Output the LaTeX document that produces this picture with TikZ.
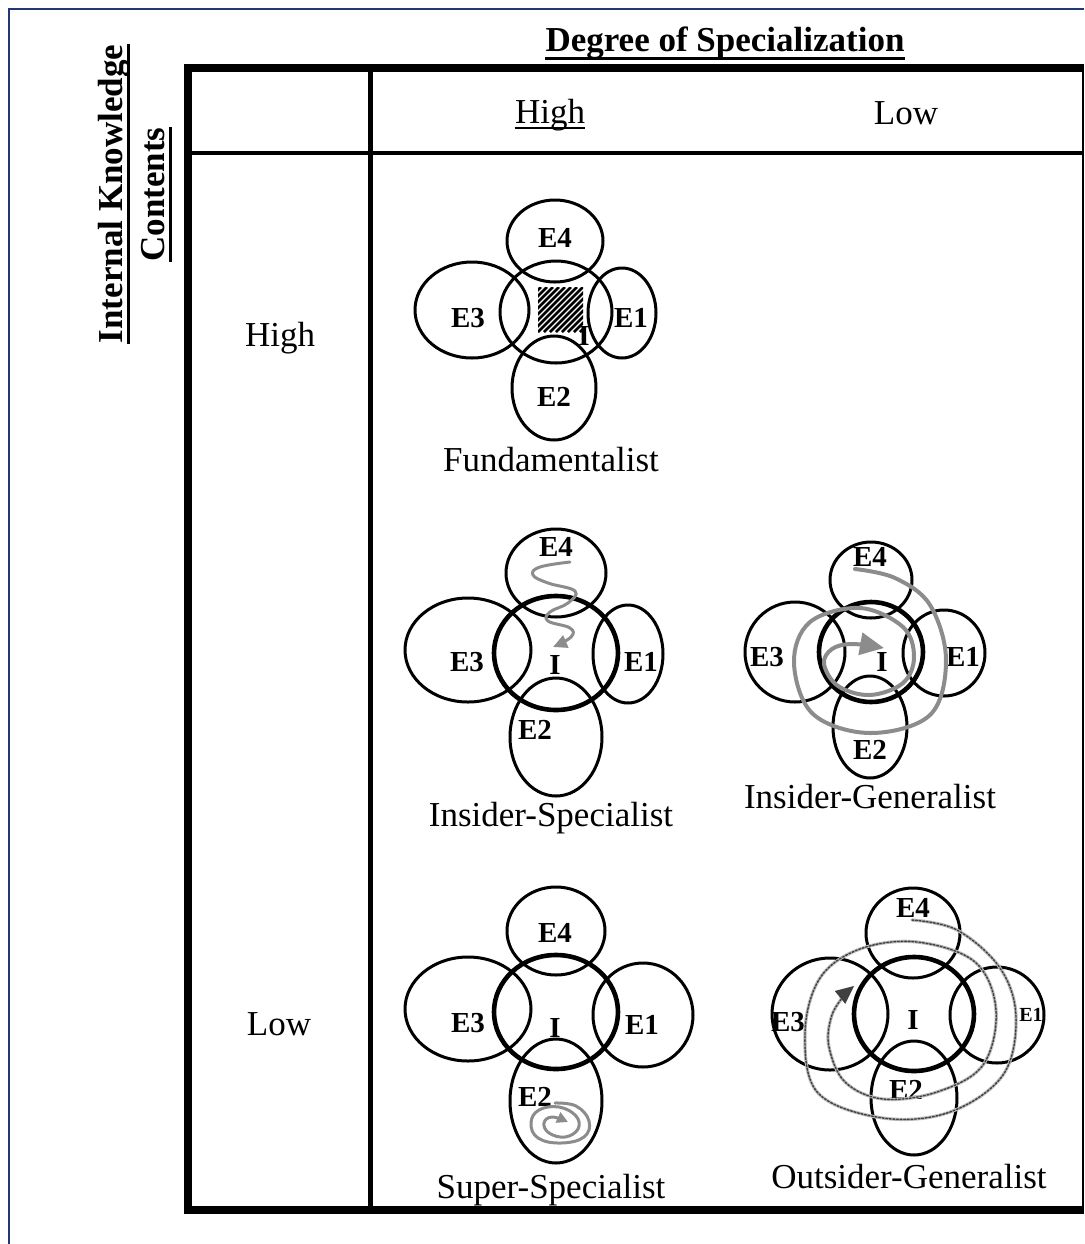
\documentclass[tikz,border=0pt]{standalone}
\usepackage{fontspec}
\setmainfont{Liberation Serif}
\usetikzlibrary{arrows.meta,calc}
\definecolor{frameblue}{RGB}{32,56,118}
\definecolor{swirlgray}{RGB}{140,140,140}
\begin{document}
\begin{tikzpicture}[x=0.5pt,y=-0.5pt,
  ecirc/.style={line width=1.5pt},
  icirc/.style={line width=2.3pt},
  elab/.style={font=\bfseries\fontsize{14.5}{16}\selectfont, inner sep=0pt},
  elabsmall/.style={font=\bfseries\fontsize{10}{12}\selectfont, inner sep=0pt},
  body/.style={font=\fontsize{17.5}{20}\selectfont, inner sep=0pt, anchor=base},
  head/.style={font=\bfseries\fontsize{17.5}{20}\selectfont, inner sep=0pt, anchor=base},
  swirl/.style={draw=swirlgray, line width=1.5pt, line cap=round, line join=round},
  ogswirl/.style={draw=gray!55, line width=1.6pt, line cap=round, line join=round,
     postaction={draw=black!75, line width=0.7pt, dash pattern=on 0.9pt off 0.9pt}},
]
\useasboundingbox (0,0) rectangle (1084,1244);

% outer blue frame (left and top edges)
\draw[frameblue, line width=1pt] (9,1244) -- (9,9) -- (1084,9);

% table
\draw[line width=4pt] (184,68) -- (1084,68);
\draw[line width=4pt] (188,64) -- (188,1214);
\draw[line width=4pt] (184,1210) -- (1084,1210);
\draw[line width=1pt] (1082.5,64) -- (1082.5,1214);
\draw[line width=2.5pt] (370.5,68) -- (370.5,1210);
\draw[line width=2pt] (188,153) -- (1082,153);

% headings
\node[head] (title) at (725,51) {Degree of Specialization};
\draw[line width=1.5pt] ($(title.base west)+(0,7)$) -- ($(title.base east)+(0,7)$);
\node[head, rotate=90] (ik) at (122,194) {Internal Knowledge};
\draw[line width=1.5pt] ($(ik.base west)+(6,0)$) -- ($(ik.base east)+(6,0)$);
\node[head, rotate=90] (ct) at (164,194.5) {Contents};
\draw[line width=1.5pt] ($(ct.base west)+(6,0)$) -- ($(ct.base east)+(6,0)$);

\node[body] (colhigh) at (550,123) {High};
\draw[line width=1pt] ($(colhigh.base west)+(0,5)$) -- ($(colhigh.base east)+(0,5)$);
\node[body] (collow) at (906,124) {Low};
\node[body] (rowhigh) at (280,346) {High};
\node[body] (rowlow) at (279,1035) {Low};

% ---------- Fundamentalist ----------
\begin{scope}
  \clip (538,287) rectangle (583,332);
  \foreach \k in {-48,-42,...,48}
    \draw[line width=1.4pt] (538+\k,332) -- ++(45,-45);
\end{scope}
\draw[ecirc] (555,241) ellipse [x radius=48, y radius=41];
\draw[ecirc] (556,312) ellipse [x radius=56, y radius=51];
\draw[ecirc] (472,310) ellipse [x radius=57, y radius=48];
\draw[ecirc] (622,313) ellipse [x radius=34, y radius=45];
\draw[ecirc] (554,388) ellipse [x radius=42, y radius=52];
\node[elab] (f-e4) at (555,238) {E4};
\node[elab] (f-e3) at (468,318) {E3};
\node[elab] (f-e1) at (631,318) {E1};
\node[elab] (f-e2) at (554,397) {E2};
\node[elab] (f-i) at (584,336) {I};
\node[body] (f-cap) at (551,471) {Fundamentalist};

% ---------- Insider-Specialist ----------
\draw[ecirc] (556,573) ellipse [x radius=50, y radius=44];
\draw[icirc] (556,653) ellipse [x radius=62, y radius=57];
\draw[ecirc] (468,650) ellipse [x radius=63, y radius=52];
\draw[ecirc] (628,654) ellipse [x radius=35, y radius=49];
\draw[ecirc] (556,737) ellipse [x radius=46, y radius=59];
\node[elab] (is-e4) at (556,547) {E4};
\node[elab] (is-e3) at (467,662) {E3};
\node[elab] (is-e1) at (641,662) {E1};
\node[elab] (is-i) at (555,665) {I};
\node[elab] (is-e2) at (535,730) {E2};
\draw[swirl, -{Triangle[length=7pt,width=6.5pt]}] plot[smooth, tension=0.7] coordinates
  {(570,562) (540,567) (533,575) (548,583) (575,591) (568,603) (550,612) (548,621) (570,628) (571,637) (553,647)};
\node[body] (is-cap) at (551,826) {Insider-Specialist};

% ---------- Insider-Generalist ----------
\draw[ecirc] (871,580) ellipse [x radius=41, y radius=38];
\draw[icirc] (871,652) ellipse [x radius=52, y radius=50];
\draw[ecirc] (795,652) ellipse [x radius=50, y radius=50];
\draw[ecirc] (944,653) ellipse [x radius=41, y radius=43];
\draw[ecirc] (870,727) ellipse [x radius=37, y radius=51];
\node[elab] (ig-e4) at (870,557) {E4};
\node[elab] (ig-e3) at (767,657) {E3};
\node[elab] (ig-e1) at (963,657) {E1};
\node[elab] (ig-i) at (882,662) {I};
\node[elab] (ig-e2) at (870,750) {E2};
\draw[swirl, line width=2pt, -{Triangle[length=12pt,width=11pt]}] plot[smooth, tension=0.6] coordinates
  {(855,569) (895,578) (930,605) (946,660) (930,715) (870,733) (813,714) (794,663) (810,622) (860,608) (903,627) (914,657) (903,683) (870,695) (838,686) (824,664) (832,649) (852,644) (884,648)};
\node[body] (ig-cap) at (870,808) {Insider-Generalist};

% ---------- Super-Specialist ----------
\draw[ecirc] (556,931) ellipse [x radius=49, y radius=44];
\draw[icirc] (556,1012) ellipse [x radius=62, y radius=57];
\draw[ecirc] (468,1009) ellipse [x radius=63, y radius=52];
\draw[ecirc] (643,1015) ellipse [x radius=50, y radius=52];
\draw[ecirc] (556,1101) ellipse [x radius=46, y radius=62];
\node[elab] (ss-e4) at (555,933) {E4};
\node[elab] (ss-e3) at (468,1023) {E3};
\node[elab] (ss-i) at (555,1028) {I};
\node[elab] (ss-e1) at (642,1025) {E1};
\node[elab] (ss-e2) at (535,1097) {E2};
\draw[swirl, -{Triangle[length=5.5pt,width=5.5pt]}] plot[smooth, tension=0.7] coordinates
  {(555,1103) (576,1106) (589,1121) (584,1137) (561,1143) (538,1138) (531,1123) (539,1110) (559,1107) (576,1116) (578,1129) (565,1137) (549,1133) (544,1123) (552,1117) (568,1122)};
\node[body] (ss-cap) at (551,1198) {Super-Specialist};

% ---------- Outsider-Generalist ----------
\draw[ecirc] (913,933) ellipse [x radius=47, y radius=45];
\draw[icirc] (914,1014) ellipse [x radius=60, y radius=57];
\draw[ecirc] (830,1014) ellipse [x radius=58, y radius=56];
\draw[ecirc] (997,1015) ellipse [x radius=47, y radius=48];
\draw[ecirc] (914,1098) ellipse [x radius=43, y radius=57];
\node[elab] (og-e4) at (913,908) {E4};
\node[elab] (og-e3) at (788,1022) {E3};
\node[elab] (og-i) at (913,1020) {I};
\node[elabsmall] (og-e1) at (1031,1015) {E1};
\node[elab] (og-e2) at (906,1090) {E2};
\draw[ogswirl, -{Triangle[length=9pt,width=8pt]}] plot[smooth, tension=0.6] coordinates
  {(912,920) (957,930) (1000,968) (1016,1017) (1003,1075) (950,1112) (883,1118) (818,1093) (805,1033) (820,978) (860,949) (917,942) (975,962) (996,1010) (983,1065) (937,1092) (883,1099) (845,1082) (829,1047) (831,1018) (842,998) (854,986)};
\node[body] (og-cap) at (909,1188) {Outsider-Generalist};
\end{tikzpicture}
\end{document}
